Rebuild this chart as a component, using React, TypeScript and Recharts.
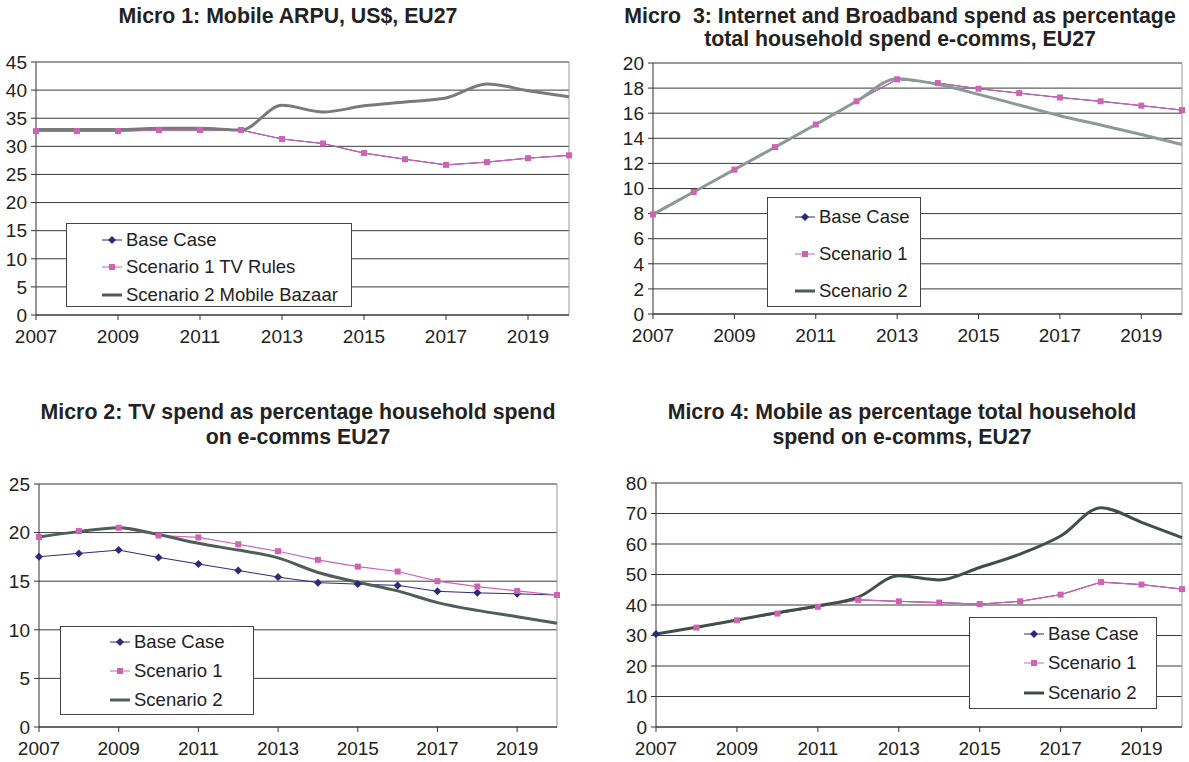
import { LineChart, Line, XAxis, YAxis, CartesianGrid, Legend, ReferenceLine } from 'recharts';

const FONT = '"Liberation Sans", Arial, Helvetica, sans-serif';
const NAVY = '#2c2a7c';
const PINK = '#d062b4';

const YEARS = [2007, 2008, 2009, 2010, 2011, 2012, 2013, 2014, 2015, 2016, 2017, 2018, 2019, 2020];

// Micro 1: Mobile ARPU
const ARPU_BASE = [32.7, 32.7, 32.7, 32.9, 32.9, 32.9, 31.3, 30.5, 28.8, 27.7, 26.7, 27.2, 27.9, 28.4];
const ARPU_S1 = [32.7, 32.7, 32.7, 32.9, 32.9, 32.9, 31.3, 30.5, 28.8, 27.7, 26.7, 27.2, 27.9, 28.4];
const ARPU_S2 = [33.0, 33.0, 33.0, 33.2, 33.2, 32.9, 37.3, 36.1, 37.2, 37.9, 38.6, 41.1, 39.9, 38.8];
const ARPU_TICKS = [0, 5, 10, 15, 20, 25, 30, 35, 40, 45];

// Micro 3: Internet and Broadband
const BB_BASE = [7.94, 9.72, 11.5, 13.3, 15.1, 16.95, 18.7, 18.4, 17.95, 17.6, 17.25, 16.95, 16.6, 16.25];
const BB_S1 = [7.94, 9.72, 11.5, 13.3, 15.1, 16.95, 18.7, 18.4, 17.95, 17.6, 17.25, 16.95, 16.6, 16.25];
const BB_S2 = [7.94, 9.72, 11.5, 13.3, 15.1, 16.95, 18.75, 18.3, 17.5, 16.65, 15.8, 15.06, 14.3, 13.5];
const BB_TICKS = [0, 2, 4, 6, 8, 10, 12, 14, 16, 18, 20];

// Micro 2: TV spend
const TV_BASE = [17.52, 17.86, 18.2, 17.45, 16.77, 16.1, 15.43, 14.85, 14.7, 14.57, 13.96, 13.8, 13.7, 13.58];
const TV_S1 = [19.55, 20.16, 20.5, 19.7, 19.5, 18.8, 18.08, 17.2, 16.5, 16.0, 15.0, 14.45, 14.0, 13.58];
const TV_S2 = [19.55, 20.1, 20.5, 19.8, 18.9, 18.2, 17.4, 15.9, 14.9, 14.0, 12.8, 12.0, 11.35, 10.67];
const TV_TICKS = [0, 5, 10, 15, 20, 25];

// Micro 4: Mobile share
const MOB_BASE = [30.5, 32.6, 35.0, 37.2, 39.4, 41.7, 41.2, 40.8, 40.3, 41.2, 43.4, 47.5, 46.7, 45.2];
const MOB_S1 = [null, 32.6, 35.0, 37.2, 39.4, 41.7, 41.2, 40.8, 40.3, 41.2, 43.4, 47.5, 46.7, 45.2];
const MOB_S2 = [30.5, 32.7, 35.1, 37.5, 39.7, 42.6, 49.6, 48.2, 52.3, 56.7, 62.6, 71.9, 67.1, 62.1];
const MOB_TICKS = [0, 10, 20, 30, 40, 50, 60, 70, 80];

const LABELS_1 = ['Base Case', 'Scenario 1 TV Rules', 'Scenario 2 Mobile Bazaar'];
const LABELS = ['Base Case', 'Scenario 1', 'Scenario 2'];

// base case markers sit under scenario 1 where both series are equal
const Diamond = (props: any) => {
  const { cx, cy, index, payload } = props;
  if (cx == null || cy == null || isNaN(cy) || payload.base === payload.s1) return <g key={index} />;
  return <path key={index} d={`M${cx},${cy - 4}L${cx + 4},${cy}L${cx},${cy + 4}L${cx - 4},${cy}Z`} fill={NAVY} />;
};

const Square = (props: any) => {
  const { cx, cy, index } = props;
  if (cx == null || cy == null || isNaN(cy)) return <g key={index} />;
  return <rect key={index} x={cx - 3} y={cy - 3} width={6} height={6} fill={PINK} />;
};

interface Box { x: number; y: number; w: number; h: number; padTop: number; padLeft: number; row: number }

interface PanelProps {
  left: number;
  top: number;
  margin: { top: number; right: number; bottom: number; left: number };
  yWidth: number;
  ticks: number[];
  base: (number | null)[];
  s1: (number | null)[];
  s2: (number | null)[];
  s2Color: string;
  s2Legend: string;
  labels: string[];
  box: Box;
}

function Panel(p: PanelProps) {
  const data = YEARS.map((year, i) => ({ year, base: p.base[i], s1: p.s1[i], s2: p.s2[i] }));
  const max = p.ticks[p.ticks.length - 1];
  const b = p.box;

  const legend = () => (
    <div style={{ width: b.w, height: b.h, boxSizing: 'border-box', border: '1px solid #444', background: '#fff',
      paddingTop: b.padTop, paddingLeft: b.padLeft, fontFamily: FONT, fontSize: 18.5, color: '#222' }}>
      {p.labels.map((label, i) => (
        <div key={label} style={{ display: 'flex', alignItems: 'center', height: b.row, whiteSpace: 'nowrap' }}>
          <svg width={20} height={10}>
            {i === 0 && <>
              <line x1={0} y1={5} x2={20} y2={5} stroke={NAVY} strokeWidth={1} />
              <path d="M10,1L14,5L10,9L6,5Z" fill={NAVY} />
            </>}
            {i === 1 && <>
              <line x1={0} y1={5} x2={20} y2={5} stroke={PINK} strokeWidth={1} />
              <rect x={7} y={2} width={6} height={6} fill={PINK} />
            </>}
            {i === 2 && <line x1={0} y1={5} x2={20} y2={5} stroke={p.s2Legend} strokeWidth={3} />}
          </svg>
          <span style={{ marginLeft: 4 }}>{label}</span>
        </div>
      ))}
    </div>
  );

  return (
    <div style={{ position: 'absolute', left: p.left, top: p.top }}>
      <LineChart width={589} height={360} data={data} margin={p.margin}>
        <CartesianGrid vertical={false} stroke="#3a3a3a" strokeWidth={1} />
        <ReferenceLine y={max} stroke="#999" />
        <ReferenceLine x={2020} stroke="#999" />
        <XAxis dataKey="year" interval={1} tickSize={5} tickMargin={10}
          axisLine={{ stroke: '#333' }} tickLine={{ stroke: '#333' }}
          tick={{ fill: '#222', fontSize: 19, fontFamily: FONT }} />
        <YAxis domain={[0, max]} ticks={p.ticks} width={p.yWidth} tickSize={5} tickMargin={4} interval={0}
          axisLine={{ stroke: '#333' }} tickLine={{ stroke: '#333' }}
          tick={{ fill: '#222', fontSize: 19, fontFamily: FONT }} />
        <Line dataKey="base" type="linear" stroke={NAVY} strokeWidth={1} dot={false} isAnimationActive={false} />
        <Line dataKey="s1" type="linear" stroke={PINK} strokeWidth={1.2} dot={false} isAnimationActive={false} />
        <Line dataKey="s2" type="monotone" stroke={p.s2Color} strokeWidth={3} dot={false} isAnimationActive={false} />
        <Line dataKey="base" stroke="none" dot={Diamond} isAnimationActive={false} legendType="none" />
        <Line dataKey="s1" stroke="none" dot={Square} isAnimationActive={false} legendType="none" />
        <Legend layout="vertical" align="center" verticalAlign="middle" content={legend}
          wrapperStyle={{ left: b.x, top: b.y, width: b.w, height: b.h }} />
      </LineChart>
    </div>
  );
}

const titleStyle = {
  position: 'absolute' as const,
  fontFamily: FONT,
  fontWeight: 'bold' as const,
  fontSize: 21.3,
  color: '#222',
  textAlign: 'center' as const,
  whiteSpace: 'nowrap' as const,
};

export default function App() {
  return (
    <div style={{ position: 'absolute', left: 0, top: 0, width: 1189, height: 762, background: '#fff' }}>
      <div style={{ ...titleStyle, left: 0, width: 576, top: 5, lineHeight: '23px' }}>
        Micro 1: Mobile ARPU, US$, EU27
      </div>
      <div style={{ ...titleStyle, left: 610, width: 580, top: 5, lineHeight: '23px' }}>
        Micro&nbsp; 3: Internet and Broadband spend as percentage<br />total household spend e-comms, EU27
      </div>
      <div style={{ ...titleStyle, left: 0, width: 596, top: 400, lineHeight: '25px' }}>
        Micro 2: TV spend as percentage household spend<br />on e-comms EU27
      </div>
      <div style={{ ...titleStyle, left: 600, width: 604, top: 400, lineHeight: '25px' }}>
        Micro 4: Mobile as percentage total household<br />spend on e-comms, EU27
      </div>

      <Panel left={0} top={0} margin={{ top: 62, right: 20, bottom: 15, left: 0 }} yWidth={36}
        ticks={ARPU_TICKS} base={ARPU_BASE} s1={ARPU_S1} s2={ARPU_S2} s2Color="#7a7a7a" s2Legend="#555"
        labels={LABELS_1} box={{ x: 66, y: 223, w: 286, h: 84, padTop: 2, padLeft: 35, row: 27.5 }} />

      <Panel left={600} top={0} margin={{ top: 63, right: 7, bottom: 16, left: 0 }} yWidth={53}
        ticks={BB_TICKS} base={BB_BASE} s1={BB_S1} s2={BB_S2} s2Color="#8b9a99" s2Legend="#4a5a55"
        labels={LABELS} box={{ x: 167, y: 197, w: 154, h: 110, padTop: 0, padLeft: 27, row: 37 }} />

      <Panel left={0} top={400} margin={{ top: 84, right: 32, bottom: 3, left: 0 }} yWidth={39}
        ticks={TV_TICKS} base={TV_BASE} s1={TV_S1} s2={TV_S2} s2Color="#4f5e57" s2Legend="#4f5e57"
        labels={LABELS} box={{ x: 60, y: 226, w: 194, h: 89, padTop: 0, padLeft: 49, row: 29 }} />

      <Panel left={600} top={400} margin={{ top: 83, right: 7, bottom: 3, left: 0 }} yWidth={56}
        ticks={MOB_TICKS} base={MOB_BASE} s1={MOB_S1} s2={MOB_S2} s2Color="#3f5048" s2Legend="#3f5048"
        labels={LABELS} box={{ x: 369, y: 217, w: 188, h: 92, padTop: 1, padLeft: 54, row: 29.5 }} />
    </div>
  );
}
